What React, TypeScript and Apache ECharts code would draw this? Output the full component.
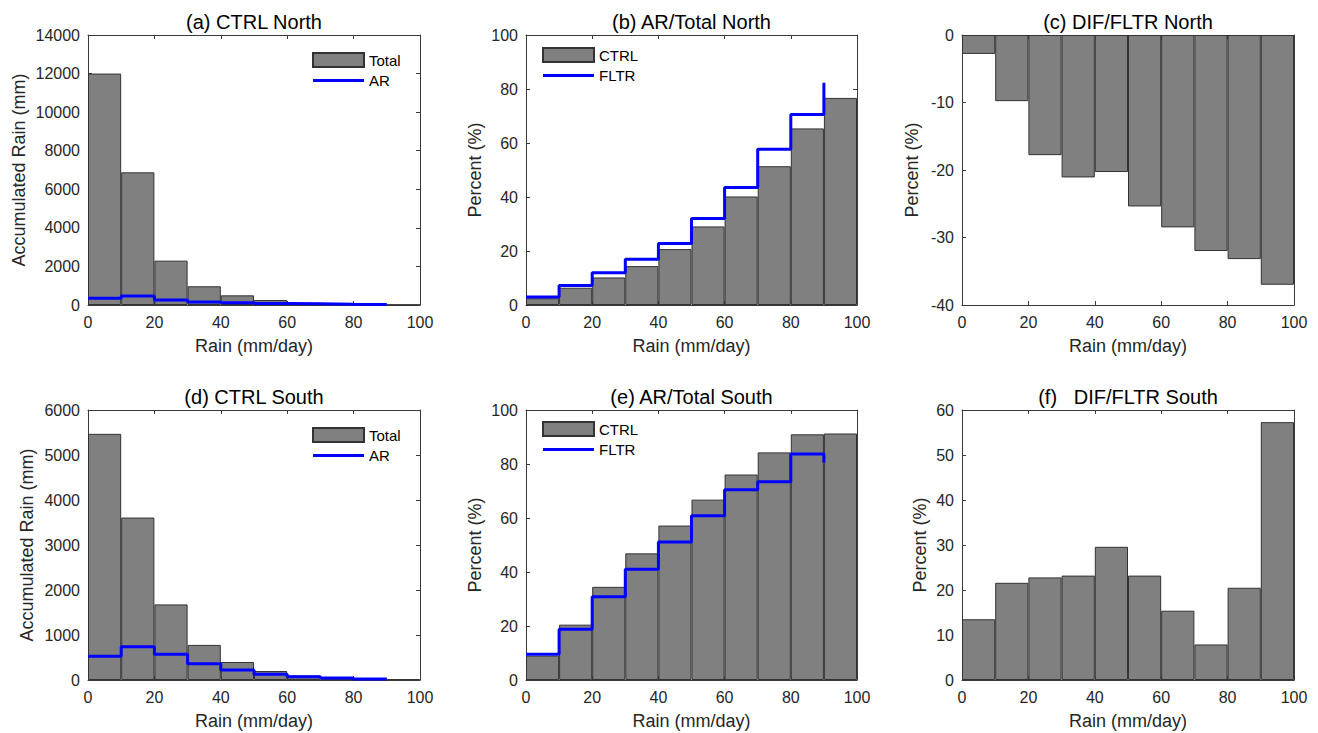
import React, { useEffect, useRef } from "react";
import * as echarts from "echarts";

// ---- data ----
const binCategories = ["0-10", "10-20", "20-30", "30-40", "40-50", "50-60", "60-70", "70-80", "80-90", "90-100"];
const stairsX = [0, 10, 20, 30, 40, 50, 60, 70, 80, 90];
const xTicks = [0, 20, 40, 60, 80, 100];

const northTotal = [12000, 6880, 2300, 970, 500, 260, 110, 70, 40, 20];
const northAR = [350, 470, 260, 160, 120, 80, 60, 40, 30, 15];

const northCtrlPct = [2.5, 6.4, 10.2, 14.4, 20.7, 29.1, 40.2, 51.4, 65.4, 76.7];
const northFltrPct = [3.0, 7.2, 11.9, 16.9, 22.8, 32.0, 43.5, 57.7, 70.6, 82.3];

const northDifFltr = [-2.8, -9.8, -17.8, -21.1, -20.3, -25.4, -28.5, -32.0, -33.2, -37.0];

const southTotal = [5470, 3610, 1680, 780, 400, 200, 100, 60, 40, 20];
const southAR = [530, 740, 570, 360, 220, 130, 75, 45, 25, 10];

const southCtrlPct = [9.0, 20.5, 34.5, 46.9, 57.2, 66.8, 76.1, 84.3, 91.0, 91.3];
const southFltrPct = [9.5, 18.8, 30.8, 41.0, 51.1, 60.8, 70.5, 73.4, 83.7, 80.6];

const southDifFltr = [13.5, 21.6, 22.8, 23.2, 29.6, 23.2, 15.4, 7.9, 20.5, 57.3];

// ---- styling / layout ----
const FONT = "'Liberation Sans', Arial, Helvetica, sans-serif";
const AXIS_COLOR = "#3a3a3a";
const TEXT_COLOR = "#262626";
const BAR_FILL = "#808080";
const BAR_EDGE = "#333333";
const LINE_BLUE = "#0000ff";

type Panel = {
  title: string;
  left: number;
  top: number;
  width: number;
  height: number;
  yMin: number;
  yMax: number;
  yInterval: number;
  yName: string;
  yNameGap: number;
  bars: number[];
  barName: string;
  line?: number[];
  lineName?: string;
  legend?: { left: number; top: number };
};

const panels: Panel[] = [
  {
    title: "(a) CTRL North", left: 88, top: 35, width: 332, height: 270,
    yMin: 0, yMax: 14000, yInterval: 2000, yName: "Accumulated Rain (mm)", yNameGap: 60,
    bars: northTotal, barName: "Total", line: northAR, lineName: "AR", legend: { left: 312, top: 52 },
  },
  {
    title: "(b) AR/Total North", left: 526, top: 35, width: 331, height: 270,
    yMin: 0, yMax: 100, yInterval: 20, yName: "Percent (%)", yNameGap: 42,
    bars: northCtrlPct, barName: "CTRL", line: northFltrPct, lineName: "FLTR", legend: { left: 542, top: 47 },
  },
  {
    title: "(c) DIF/FLTR North", left: 962, top: 35, width: 332, height: 270,
    yMin: -40, yMax: 0, yInterval: 10, yName: "Percent (%)", yNameGap: 41,
    bars: northDifFltr, barName: "DIF_N",
  },
  {
    title: "(d) CTRL South", left: 88, top: 410, width: 332, height: 270,
    yMin: 0, yMax: 6000, yInterval: 1000, yName: "Accumulated Rain (mm)", yNameGap: 52,
    bars: southTotal, barName: "Total", line: southAR, lineName: "AR", legend: { left: 312, top: 427 },
  },
  {
    title: "(e) AR/Total South", left: 526, top: 410, width: 331, height: 270,
    yMin: 0, yMax: 100, yInterval: 20, yName: "Percent (%)", yNameGap: 42,
    bars: southCtrlPct, barName: "CTRL", line: southFltrPct, lineName: "FLTR", legend: { left: 542, top: 421 },
  },
  {
    title: "(f)   DIF/FLTR South", left: 962, top: 410, width: 332, height: 270,
    yMin: 0, yMax: 60, yInterval: 10, yName: "Percent (%)", yNameGap: 33,
    bars: southDifFltr, barName: "DIF_S",
  },
];

function buildOption() {
  const grid: any[] = [];
  const xAxis: any[] = [];
  const yAxis: any[] = [];
  const series: any[] = [];
  const legend: any[] = [];
  const graphic: any[] = [];

  const tickStyle = { show: true, inside: true, length: 4, lineStyle: { color: AXIS_COLOR, width: 1 } };
  const lineStyle = { show: true, onZero: false, lineStyle: { color: AXIS_COLOR, width: 1 } };
  const plain = (v: number) => String(v);

  panels.forEach((p, i) => {
    grid.push({ left: p.left, top: p.top, width: p.width, height: p.height, containLabel: false });

    // category axis for histogram bins (hidden)
    xAxis.push({
      type: "category", gridIndex: i, data: binCategories, show: false, position: "bottom", boundaryGap: true,
    });
    // visible bottom value axis
    xAxis.push({
      type: "value", gridIndex: i, position: "bottom", min: 0, max: 100, interval: 20,
      axisLine: lineStyle, axisTick: tickStyle, splitLine: { show: false },
      axisLabel: { color: TEXT_COLOR, fontSize: 16, fontFamily: FONT, margin: 9, formatter: plain },
      name: "Rain (mm/day)", nameLocation: "middle", nameGap: 32,
      nameTextStyle: { color: TEXT_COLOR, fontSize: 18, fontFamily: FONT },
    });
    // top box axis
    xAxis.push({
      type: "value", gridIndex: i, position: "top", min: 0, max: 100, interval: 20,
      axisLine: lineStyle, axisTick: tickStyle, splitLine: { show: false }, axisLabel: { show: false },
    });

    yAxis.push({
      type: "value", gridIndex: i, position: "left", min: p.yMin, max: p.yMax, interval: p.yInterval,
      axisLine: lineStyle, axisTick: tickStyle, splitLine: { show: false },
      axisLabel: { color: TEXT_COLOR, fontSize: 16, fontFamily: FONT, margin: 8, formatter: plain },
      name: p.yName, nameLocation: "middle", nameGap: p.yNameGap,
      nameTextStyle: { color: TEXT_COLOR, fontSize: 18, fontFamily: FONT },
    });
    yAxis.push({
      type: "value", gridIndex: i, position: "right", min: p.yMin, max: p.yMax, interval: p.yInterval,
      axisLine: lineStyle, axisTick: tickStyle, splitLine: { show: false }, axisLabel: { show: false },
    });

    series.push({
      type: "bar", name: p.barName, xAxisIndex: 3 * i, yAxisIndex: 2 * i,
      data: p.bars, barWidth: "100%", barGap: "0%",
      itemStyle: { color: BAR_FILL, borderColor: BAR_EDGE, borderWidth: 1 },
      silent: true,
    });

    if (p.line && p.lineName) {
      series.push({
        type: "line", name: p.lineName, xAxisIndex: 3 * i + 1, yAxisIndex: 2 * i,
        data: stairsX.map((x, k) => [x, p.line![k]]), step: "end", symbol: "none",
        lineStyle: { color: LINE_BLUE, width: 3 }, itemStyle: { color: LINE_BLUE },
        z: 5, silent: true,
      });
    }

    if (p.legend && p.lineName) {
      legend.push({
        left: p.legend.left, top: p.legend.top, orient: "vertical",
        itemWidth: 51, itemHeight: 14, itemGap: 5, padding: 0,
        selectedMode: false,
        textStyle: { color: "#000", fontSize: 15, fontFamily: FONT },
        data: [
          { name: p.barName, icon: "rect" },
          { name: p.lineName, icon: "path://M0,0 H51 V3 H0 Z" },
        ],
      });
    }

    graphic.push({
      type: "text", x: p.left + p.width / 2, y: p.top - 13,
      style: {
        text: p.title, align: "center", verticalAlign: "middle",
        fontSize: 20, fontFamily: FONT, fill: "#000",
      },
    });
  });

  return {
    animation: false,
    backgroundColor: "#ffffff",
    grid, xAxis, yAxis, series, legend, graphic,
  };
}

export default function App() {
  const ref = useRef<HTMLDivElement>(null);
  useEffect(() => {
    if (!ref.current) return;
    const chart = echarts.init(ref.current, null, { renderer: "svg" });
    chart.setOption(buildOption() as any);
    return () => chart.dispose();
  }, []);
  return (
    <div
      ref={ref}
      style={{ position: "absolute", left: 0, top: 0, width: 1318, height: 733, background: "#fff" }}
    />
  );
}
